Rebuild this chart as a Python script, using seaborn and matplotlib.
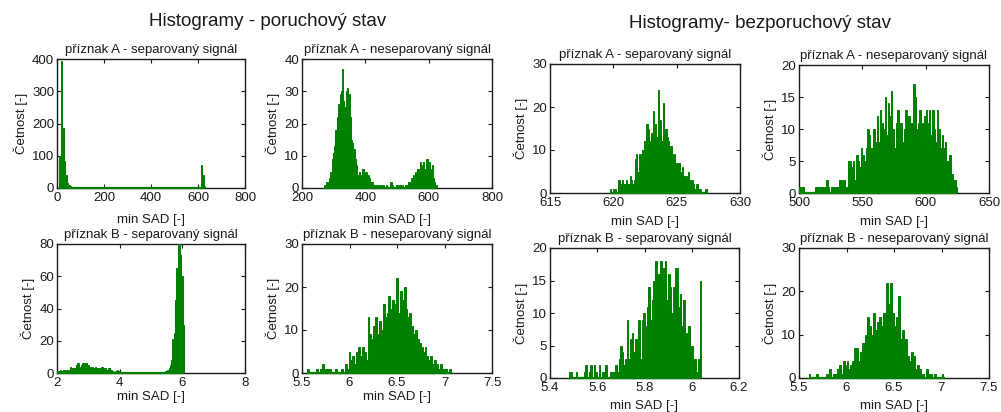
import numpy as np
import pandas as pd
import matplotlib
matplotlib.use("Agg")
import matplotlib.pyplot as plt
from matplotlib.ticker import FormatStrFormatter
import seaborn as sns

# ---------------------------------------------------------------------------
# Histogram counts (one value per bin) with the first bin edge and bin width
# ---------------------------------------------------------------------------

# poruchový stav, příznak A, separovaný signál
fault_a_sep_start, fault_a_sep_width = 10.0, 6.2
fault_a_sep_counts = [
    100, 395, 185, 85, 40, 15, 10, 5, 3, 2,
    1, 1, 0, 1, 0, 0, 1, 0, 0, 0,
    0, 0, 1, 0, 0, 0, 0, 0, 0, 0,
    0, 0, 0, 0, 0, 0, 0, 0, 0, 0,
    0, 0, 0, 0, 0, 0, 0, 0, 0, 1,
    0, 0, 0, 0, 0, 0, 0, 0, 0, 0,
    0, 0, 0, 0, 0, 0, 0, 0, 0, 0,
    1, 0, 0, 0, 0, 0, 0, 0, 0, 0,
    0, 0, 0, 0, 0, 0, 0, 0, 0, 0,
    0, 0, 0, 0, 0, 1, 3, 70, 40, 5,
]

# poruchový stav, příznak A, neseparovaný signál
fault_a_nosep_start, fault_a_nosep_width = 270.0, 3.55
fault_a_nosep_counts = [
    1, 1, 2, 1, 3, 5, 4, 9, 11, 13,
    18, 22, 26, 25, 29, 30, 37, 27, 25, 30,
    31, 27, 29, 22, 15, 14, 12, 9, 7, 4,
    3, 5, 2, 4, 6, 5, 3, 5, 2, 4,
    3, 2, 2, 1, 0, 1, 1, 0, 1, 1,
    0, 1, 1, 0, 0, 1, 0, 0, 0, 2,
    1, 0, 0, 0, 1, 1, 0, 1, 0, 1,
    0, 0, 1, 1, 0, 2, 1, 3, 2, 4,
    3, 5, 4, 6, 3, 8, 5, 7, 8, 4,
    6, 9, 5, 8, 6, 4, 7, 3, 2, 1,
]

# poruchový stav, příznak B, separovaný signál
fault_b_sep_start, fault_b_sep_width = 2.0, 0.0405
fault_b_sep_counts = [
    1, 1, 2, 1, 1, 2, 1, 2, 1, 2,
    4, 2, 3, 3, 2, 5, 6, 4, 3, 5,
    6, 6, 4, 6, 5, 4, 3, 4, 3, 2,
    4, 3, 3, 2, 3, 4, 2, 3, 3, 2,
    3, 3, 2, 1, 0, 0, 1, 2, 1, 0,
    0, 0, 0, 0, 0, 0, 0, 0, 0, 0,
    0, 0, 0, 0, 0, 0, 0, 0, 0, 0,
    0, 0, 0, 0, 0, 0, 0, 0, 0, 0,
    0, 0, 0, 0, 0, 1, 1, 2, 3, 5,
    8, 21, 25, 45, 65, 80, 80, 73, 60, 30,
]

# poruchový stav, příznak B, neseparovaný signál
fault_b_nosep_start, fault_b_nosep_width = 5.55, 0.02
fault_b_nosep_counts = [
    1, 0, 0, 0, 0, 1, 0, 1, 2, 1,
    1, 1, 1, 0, 0, 1, 0, 0, 1, 0,
    2, 1, 5, 3, 4, 2, 5, 6, 4, 6,
    5, 3, 13, 9, 8, 11, 13, 9, 12, 10,
    16, 13, 14, 18, 15, 17, 16, 22, 14, 19,
    17, 20, 15, 13, 14, 11, 9, 10, 8, 7,
    6, 5, 6, 4, 3, 4, 2, 3, 2, 1,
    2, 1, 1, 1, 0, 1,
]

# bezporuchový stav, příznak A, separovaný signál
ok_a_sep_start, ok_a_sep_width = 619.7, 0.1
ok_a_sep_counts = [
    1, 0, 0, 1, 1, 0, 0, 3, 1, 2,
    3, 2, 1, 3, 2, 2, 4, 3, 2, 3,
    8, 9, 5, 9, 6, 9, 10, 12, 9, 16,
    15, 12, 11, 14, 19, 12, 16, 13, 24, 17,
    17, 12, 21, 14, 15, 13, 12, 10, 11, 9,
    8, 9, 7, 7, 6, 7, 5, 6, 4, 4,
    3, 4, 5, 3, 2, 3, 2, 1, 2, 2,
    1, 1, 0, 0, 0, 1, 1,
]

# bezporuchový stav, příznak A, neseparovaný signál
ok_a_nosep_start, ok_a_nosep_width = 500.0, 1.25
ok_a_nosep_counts = [
    1, 0, 1, 0, 0, 0, 0, 0, 0, 0,
    1, 1, 1, 0, 1, 1, 1, 2, 1, 0,
    1, 1, 0, 1, 1, 2, 2, 1, 2, 1,
    1, 5, 5, 4, 5, 2, 6, 5, 4, 7,
    6, 5, 7, 10, 9, 7, 6, 10, 8, 12,
    8, 13, 11, 10, 15, 9, 14, 12, 16, 10,
    7, 11, 13, 10, 11, 8, 10, 13, 9, 12,
    8, 11, 17, 15, 10, 11, 13, 11, 8, 12,
    13, 11, 13, 9, 13, 10, 8, 13, 10, 7,
    9, 7, 8, 5, 5, 6, 3, 2, 2, 1,
]

# bezporuchový stav, příznak B, separovaný signál
ok_b_sep_start, ok_b_sep_width = 5.48, 0.007
ok_b_sep_counts = [
    1, 1, 0, 0, 1, 0, 0, 0, 0, 1,
    2, 0, 1, 2, 0, 2, 1, 0, 2, 0,
    1, 0, 2, 0, 0, 1, 1, 1, 2, 1,
    3, 5, 4, 2, 3, 9, 3, 6, 7, 4,
    6, 5, 9, 3, 9, 10, 8, 11, 14, 9,
    12, 15, 18, 11, 16, 18, 13, 17, 18, 12,
    16, 14, 10, 14, 17, 17, 11, 13, 8, 12,
    6, 7, 8, 3, 5, 3, 3, 1, 3, 15,
]

# bezporuchový stav, příznak B, neseparovaný signál
ok_b_nosep_start, ok_b_nosep_width = 5.60, 0.02
ok_b_nosep_counts = [
    1, 0, 0, 0, 1, 0, 0, 0, 0, 1,
    0, 2, 0, 1, 1, 2, 3, 1, 4, 3,
    4, 2, 3, 4, 7, 7, 4, 6, 8, 8,
    10, 14, 12, 10, 15, 11, 13, 14, 12, 15,
    13, 22, 17, 22, 15, 12, 14, 19, 9, 11,
    6, 9, 5, 4, 6, 5, 2, 3, 2, 0,
    1, 0, 2, 1, 1, 0, 1, 0, 0, 0,
    1, 0,
]

# Texts
panel_titles = [
    "příznak A - separovaný signál", "příznak A - neseparovaný signál",
    "příznak B - separovaný signál", "příznak B - neseparovaný signál",
]
group_titles = ["Histogramy - poruchový stav", "Histogramy- bezporuchový stav"]
x_label = "min SAD [-]"
y_label = "Četnost [-]"

panels = [
    # (start, width, counts, xticks, yticks, title index,
    #  box in px: left, top, right, bottom, xlabel pad)
    (fault_a_sep_start, fault_a_sep_width, fault_a_sep_counts,
     [0, 200, 400, 600, 800], [0, 100, 200, 300, 400], 0, (57, 59, 245, 188), 7),
    (fault_a_nosep_start, fault_a_nosep_width, fault_a_nosep_counts,
     [200, 400, 600, 800], [0, 10, 20, 30, 40], 1, (302, 59, 492, 188), 7),
    (fault_b_sep_start, fault_b_sep_width, fault_b_sep_counts,
     [2, 4, 6, 8], [0, 20, 40, 60, 80], 2, (57, 244, 245, 373), 1),
    (fault_b_nosep_start, fault_b_nosep_width, fault_b_nosep_counts,
     [5.5, 6, 6.5, 7, 7.5], [0, 10, 20, 30], 3, (302, 244, 492, 373), 1),
    (ok_a_sep_start, ok_a_sep_width, ok_a_sep_counts,
     [615, 620, 625, 630], [0, 10, 20, 30], 0, (550, 64, 740, 193), 5),
    (ok_a_nosep_start, ok_a_nosep_width, ok_a_nosep_counts,
     [500, 550, 600, 650], [0, 5, 10, 15, 20], 1, (799, 65, 989, 193), 5),
    (ok_b_sep_start, ok_b_sep_width, ok_b_sep_counts,
     [5.4, 5.6, 5.8, 6, 6.2], [0, 5, 10, 15, 20], 2, (550, 248, 739, 378), 4),
    (ok_b_nosep_start, ok_b_nosep_width, ok_b_nosep_counts,
     [5.5, 6, 6.5, 7, 7.5], [0, 10, 20, 30], 3, (799, 248, 989, 378), 4),
]

sns.set_theme(style="ticks")
plt.rcParams.update({
    "font.family": ["Liberation Sans", "DejaVu Sans"],
    "xtick.direction": "in",
    "ytick.direction": "in",
    "xtick.top": True,
    "ytick.right": True,
    "xtick.major.size": 3,
    "ytick.major.size": 3,
    "xtick.major.width": 0.8,
    "ytick.major.width": 0.8,
    "axes.linewidth": 1.0,
    "axes.edgecolor": "#1a1a1a",
    "xtick.color": "#1a1a1a",
    "ytick.color": "#1a1a1a",
    "xtick.labelsize": 9.5,
    "ytick.labelsize": 9.5,
    "xtick.major.pad": 3,
    "ytick.major.pad": 2,
})

W, H = 1001, 412
fig = plt.figure(figsize=(W / 100, H / 100), dpi=100)
fig.patch.set_facecolor("white")

bar_green = "#008000"
text_color = "#1a1a1a"

for start, width, counts, xticks, yticks, ti, (l, t, r, b), xpad in panels:
    ax = fig.add_axes([l / W, 1 - b / H, (r - l) / W, (b - t) / H])
    n_bins = len(counts)
    lo, hi = start, start + width * n_bins
    centers = [start + width * (i + 0.5) for i in range(n_bins)]
    df = pd.DataFrame({"value": centers, "freq": [float(c) for c in counts]})
    sns.histplot(data=df, x="value", weights="freq", bins=n_bins,
                 binrange=(lo, hi), ax=ax,
                 color=bar_green, alpha=1.0, edgecolor=bar_green,
                 linewidth=0.7, stat="count")
    # bars sit above the frame; empty bins leave a green line on the baseline
    for patch in ax.patches:
        patch.set_zorder(3)
    ax.hlines(0, lo, hi, color=bar_green, linewidth=1.6, zorder=3.5,
              clip_on=False)
    ax.set_xlim(xticks[0], xticks[-1])
    ax.set_ylim(yticks[0], yticks[-1])
    ax.set_xticks(xticks)
    ax.set_yticks(yticks)
    ax.xaxis.set_major_formatter(FormatStrFormatter("%g"))
    ax.yaxis.set_major_formatter(FormatStrFormatter("%g"))
    ax.set_xlabel(x_label, fontsize=9.5, labelpad=xpad, color=text_color)
    ax.set_ylabel(y_label, fontsize=9.5, labelpad=3, color=text_color)
    ax.set_title(panel_titles[ti], fontsize=9.5, pad=4, color=text_color)
    for side in ("top", "right", "left", "bottom"):
        ax.spines[side].set_visible(True)
    ax.set_facecolor("white")

fig.text(268 / W, 1 - 21 / H, group_titles[0], ha="center", va="center",
         fontsize=13.5, color=text_color)
fig.text(760 / W, 1 - 24 / H, group_titles[1], ha="center", va="center",
         fontsize=13.5, color=text_color)

fig.savefig("out.png", dpi=100, facecolor="white")
